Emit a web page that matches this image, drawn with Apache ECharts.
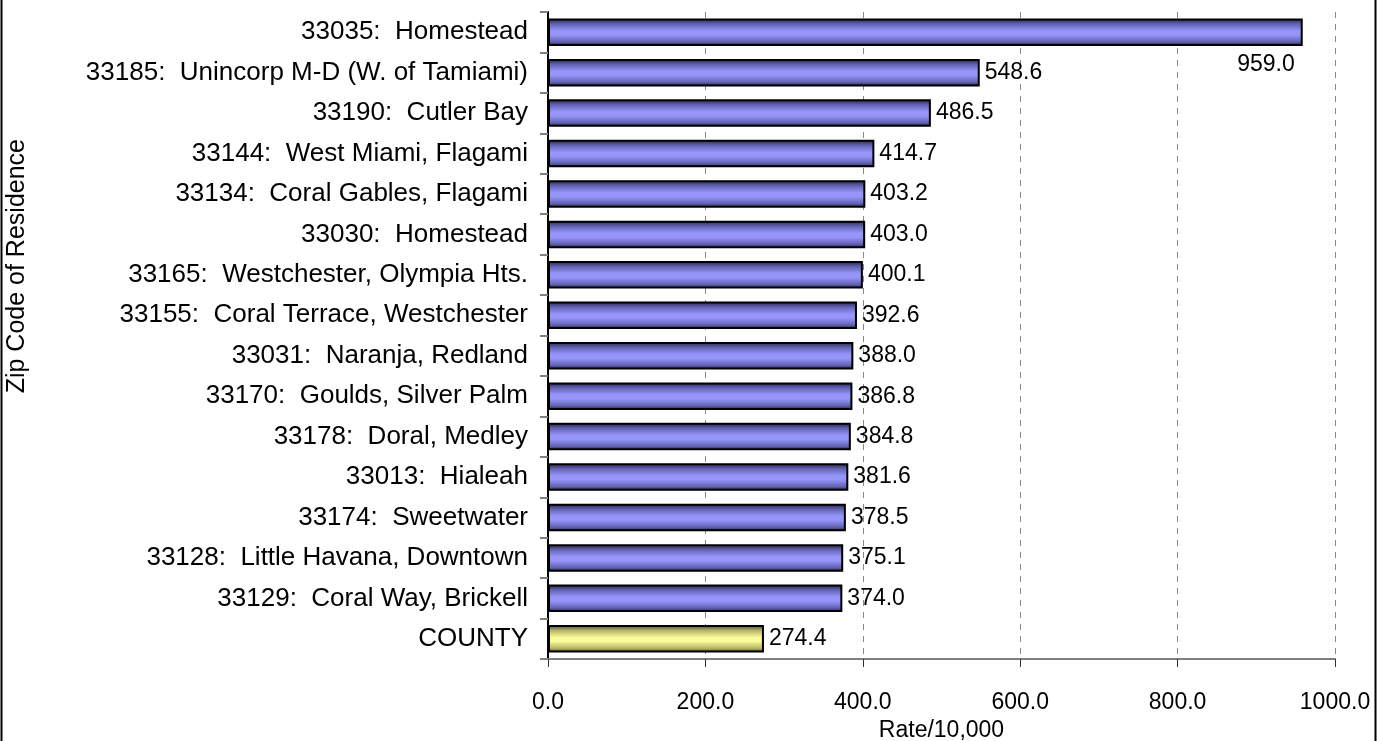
<!DOCTYPE html>
<html>
<head>
<meta charset="utf-8">
<script src="https://cdn.jsdelivr.net/npm/echarts@6/dist/echarts.min.js"></script>
<style>
  html, body { margin: 0; padding: 0; background: #fff; }
  #chart { width: 1388px; height: 741px; }
</style>
</head>
<body>
<div id="chart"></div>
<script>
// zip codes, top to bottom
const zipLabels = [
  "33035:  Homestead",
  "33185:  Unincorp M-D (W. of Tamiami)",
  "33190:  Cutler Bay",
  "33144:  West Miami, Flagami",
  "33134:  Coral Gables, Flagami",
  "33030:  Homestead",
  "33165:  Westchester, Olympia Hts.",
  "33155:  Coral Terrace, Westchester",
  "33031:  Naranja, Redland",
  "33170:  Goulds, Silver Palm",
  "33178:  Doral, Medley",
  "33013:  Hialeah",
  "33174:  Sweetwater",
  "33128:  Little Havana, Downtown",
  "33129:  Coral Way, Brickell",
  "COUNTY"
];
const rates = [959.0, 548.6, 486.5, 414.7, 403.2, 403.0, 400.1, 392.6, 388.0, 386.8, 384.8, 381.6, 378.5, 375.1, 374.0, 274.4];
const xTicks = [0, 200, 400, 600, 800, 1000];

const font = "'Liberation Sans', Arial, sans-serif";

function grad(edge, mid, center) {
  return new echarts.graphic.LinearGradient(0, 0, 0, 1, [
    { offset: 0, color: edge },
    { offset: 0.2, color: mid },
    { offset: 0.45, color: center },
    { offset: 0.6, color: center },
    { offset: 0.85, color: mid },
    { offset: 1, color: edge }
  ]);
}
const blueFill = grad("#202044", "#6262b2", "#9595fa");
const yellowFill = grad("#444422", "#b4b468", "#fafa96");

const barData = rates.map((v, i) => {
  const item = { value: v };
  if (zipLabels[i] === "COUNTY") {
    item.itemStyle = { color: yellowFill };
  }
  if (i === 0) {
    // label sits under the end of the longest bar
    item.label = {
      position: ["100%", "100%"],
      align: "right",
      verticalAlign: "top",
      offset: [-8, 7]
    };
  }
  return item;
});

const chart = echarts.init(document.getElementById("chart"));
chart.setOption({
  animation: false,
  textStyle: { fontFamily: font },
  grid: { left: 548, right: 53, top: 12, bottom: 82, containLabel: false, outerBoundsMode: "none" },
  xAxis: {
    type: "value",
    min: xTicks[0],
    max: xTicks[xTicks.length - 1],
    interval: 200,
    name: "Rate/10,000",
    nameLocation: "middle",
    nameGap: 57,
    nameTextStyle: { color: "#000", fontSize: 23, fontFamily: font },
    axisLine: { show: true, lineStyle: { color: "#808080", width: 2 } },
    axisTick: { show: true, length: 8, lineStyle: { color: "#333", width: 1 } },
    axisLabel: {
      color: "#000", fontSize: 23, fontFamily: font, margin: 32,
      formatter: (v) => v.toFixed(1)
    },
    splitLine: { show: true, lineStyle: { color: "#888", type: [6, 6], width: 1 } }
  },
  yAxis: {
    type: "category",
    data: zipLabels,
    inverse: true,
    axisLine: { show: true, lineStyle: { color: "#000", width: 2 } },
    axisTick: { show: true, length: 8, lineStyle: { color: "#808080", width: 2 } },
    axisLabel: { color: "#000", fontSize: 26, fontFamily: font, margin: 20 },
    splitLine: { show: false }
  },
  series: [{
    type: "bar",
    data: barData,
    barCategoryGap: "32%",
    itemStyle: { color: blueFill, borderColor: "#000", borderWidth: 2 },
    label: {
      show: true,
      position: "right",
      distance: 5,
      color: "#000",
      fontSize: 23,
      fontFamily: font,
      formatter: (p) => p.value.toFixed(1)
    }
  }],
  graphic: [
    {
      type: "text",
      left: 5,
      top: 139,
      rotation: Math.PI / 2,
      style: { text: "Zip Code of Residence", fontSize: 25, fontFamily: font, fill: "#000" }
    },
    { type: "line", shape: { x1: 1.5, y1: 0, x2: 1.5, y2: 741 }, style: { stroke: "#000", lineWidth: 2 } },
    { type: "line", shape: { x1: 1375.5, y1: 0, x2: 1375.5, y2: 741 }, style: { stroke: "#000", lineWidth: 2 } }
  ]
});
</script>
</body>
</html>
